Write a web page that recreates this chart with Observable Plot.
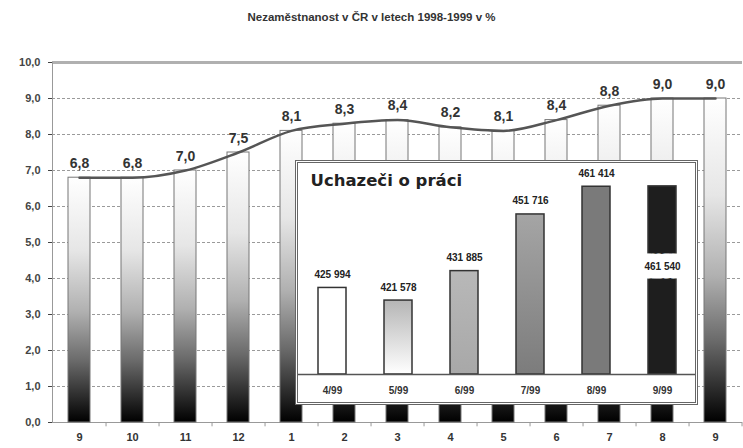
<!DOCTYPE html>
<html><head><meta charset="utf-8">
<script src="https://cdn.jsdelivr.net/npm/d3@7"></script>
<script src="https://cdn.jsdelivr.net/npm/@observablehq/plot@0.6"></script>
<style>
body{margin:0;background:#fff;font-family:"Liberation Sans",Arial,sans-serif;}
#wrap{position:relative;width:743px;height:448px;overflow:hidden;}
#title{height:36px;line-height:34px;text-align:center;font-size:11.5px;font-weight:bold;color:#333;}
#inset{position:absolute;left:295px;top:160px;width:397px;height:239px;border:3px double #666;background:#fff;}
#inset svg,#main svg{display:block;}
</style></head><body>
<div id="wrap"><div id="title">Nezaměstnanost v ČR v letech 1998-1999 v %</div><div id="main"></div><div id="inset"></div></div>
<script>
// ---- data ----
const periods = ["9/98","10/98","11/98","12/98","1/99","2/99","3/99","4/99","5/99","6/99","7/99","8/99","9/99"];
const monthLabels = ["9","10","11","12","1","2","3","4","5","6","7","8","9"];
const rates = [6.8, 6.8, 7.0, 7.5, 8.1, 8.3, 8.4, 8.2, 8.1, 8.4, 8.8, 9.0, 9.0];
const yTicks = [0,1,2,3,4,5,6,7,8,9,10];

const insetTitle = "Uchazeči o práci";
const insetPeriods = ["4/99","5/99","6/99","7/99","8/99","9/99"];
const applicants = [425994, 421578, 431885, 451716, 461414, 461540];
const applicantsDomain = [395700, 465700];

// ---- helpers ----
const ns = "http://www.w3.org/2000/svg";
function gradients(list) {
  return () => {
    const defs = document.createElementNS(ns, "defs");
    for (const [id, stops] of list) {
      const g = document.createElementNS(ns, "linearGradient");
      g.setAttribute("id", id);
      g.setAttribute("x1", "0"); g.setAttribute("y1", "0");
      g.setAttribute("x2", "0"); g.setAttribute("y2", "1");
      for (const [o, c] of stops) {
        const s = document.createElementNS(ns, "stop");
        s.setAttribute("offset", o); s.setAttribute("stop-color", c);
        g.appendChild(s);
      }
      defs.appendChild(g);
    }
    return defs;
  };
}
const comma = d => d.toFixed(1).replace(".", ",");
const spaced = v => d3.format(",")(v).replace(/,/g, " ");

// ---- main chart ----
const mainData = periods.map((p, i) => ({p, m: monthLabels[i], v: rates[i]}));
const labelOf = Object.fromEntries(mainData.map(d => [d.p, d.m]));
const W = 743, H = 412, ml = 52, mr = 1;
const step = (W - ml - mr) / periods.length;

const main = Plot.plot({
  width: W, height: H,
  marginTop: 26, marginBottom: 26, marginLeft: ml, marginRight: mr,
  x: {domain: periods, paddingInner: 0.58, paddingOuter: 0.29, label: null},
  y: {domain: [0, 10], label: null},
  style: {fontFamily: "'Liberation Sans', Arial, sans-serif", background: "#fff"},
  marks: [
    gradients([["mainGrad", [[0, "#ffffff"], [0.3, "#e6e6e6"], [0.55, "#b0b0b0"], [0.75, "#6a6a6a"], [1, "#000000"]]]]),
    Plot.ruleY(yTicks.filter(d => d > 0 && d < 10), {stroke: "#9a9a9a", strokeDasharray: "3,2"}),
    Plot.ruleY([10], {stroke: "#b0b0b0", strokeWidth: 3}),
    Plot.ruleY([0], {stroke: "#999"}),
    Plot.ruleX(periods, {x: d => d, y1: 0, y2: -0.12, dx: step / 2, stroke: "#999"}),
    Plot.frame({anchor: "left", stroke: "#999"}),
    Plot.barY(mainData, {x: "p", y: "v", fill: "url(#mainGrad)", stroke: "#777", strokeWidth: 1}),
    Plot.line(mainData, {x: "p", y: "v", curve: "monotone-x", stroke: "#555", strokeWidth: 2.5}),
    Plot.text(mainData, {x: "p", y: "v", text: d => comma(d.v), dy: -10, lineAnchor: "bottom",
      fontSize: 14, fontWeight: "bold", fill: "#333"}),
    Plot.axisY({ticks: yTicks, tickFormat: comma, tickSize: 4, tickPadding: 8, label: null,
      fontSize: 11, fontWeight: "bold", color: "#444"}),
    Plot.axisX({tickSize: 0, tickPadding: 11, tickFormat: d => labelOf[d], label: null,
      fontSize: 11, fontWeight: "bold", color: "#333"})
  ]
});
document.getElementById("main").appendChild(main);

// ---- inset chart ----
const insetFills = ["#ffffff", "url(#insGrad2)", "url(#insGrad3)", "url(#insGrad4)", "#7a7a7a", "#1e1e1e"];
const insetData = insetPeriods.map((p, i) => ({p, v: applicants[i], fill: insetFills[i], last: i === insetPeriods.length - 1}));
const base = applicantsDomain[0];

const inset = Plot.plot({
  width: 397, height: 239,
  marginTop: 11, marginBottom: 28, marginLeft: 0, marginRight: 0,
  x: {domain: insetPeriods, paddingInner: 0.58, paddingOuter: 0.29, label: null},
  y: {domain: applicantsDomain, axis: null},
  color: {type: "identity"},
  style: {fontFamily: "'Liberation Sans', Arial, sans-serif", background: "#fff"},
  marks: [
    gradients([
      ["insGrad2", [[0, "#b5b5b5"], [1, "#ffffff"]]],
      ["insGrad3", [[0, "#b8b8b8"], [1, "#a8a8a8"]]],
      ["insGrad4", [[0, "#a5a5a5"], [1, "#7c7c7c"]]]
    ]),
    Plot.barY(insetData, {x: "p", y1: base, y2: "v", fill: "fill", stroke: "#333", strokeWidth: 1.5}),
    Plot.ruleY([base], {stroke: "#555", strokeWidth: 1.5}),
    Plot.text(insetData.filter(d => !d.last), {x: "p", y: "v", text: d => spaced(d.v), dy: -10, lineAnchor: "bottom",
      fontSize: 10, fontWeight: "bold", fill: "#222"}),
    Plot.text(insetData.filter(d => d.last), {x: "p", y: d => base + (d.v - base) * 0.57, text: d => spaced(d.v),
      fontSize: 10, fontWeight: "bold", fill: "#222", stroke: "#fff", strokeWidth: 17, paintOrder: "stroke"}),
    Plot.text([insetTitle], {frameAnchor: "top-left", dx: 12, dy: 6, lineAnchor: "middle", text: d => d,
      fontSize: 16.5, fontWeight: "bold", fill: "#222", fontFamily: "'DejaVu Sans', sans-serif"}),
    Plot.axisX({tickSize: 0, tickPadding: 12, label: null, fontSize: 10, fontWeight: "bold", color: "#333"})
  ]
});
document.getElementById("inset").appendChild(inset);
</script>
</body></html>
